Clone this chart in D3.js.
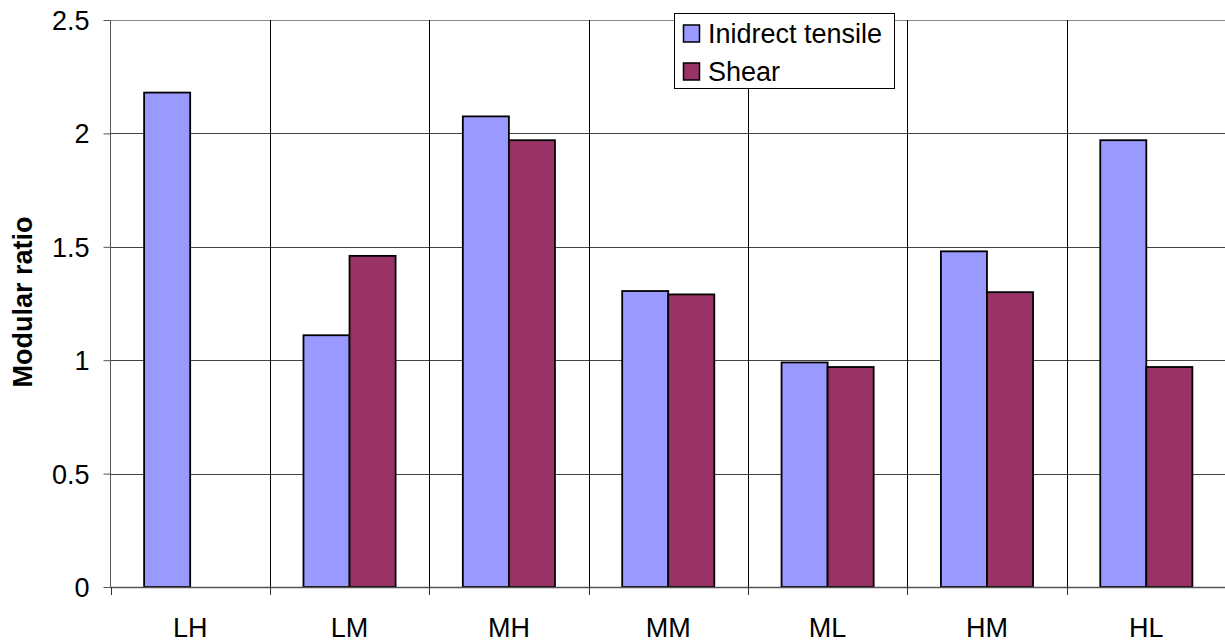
<!DOCTYPE html>
<html><head><meta charset="utf-8">
<script src="https://cdn.jsdelivr.net/npm/d3@7"></script>
<style>body{margin:0;background:#fff}svg{display:block;font-family:"Liberation Sans",Arial,sans-serif}</style>
</head><body><svg id="c" width="1225" height="642"></svg>
<script>
const categories = ["LH","LM","MH","MM","ML","HM","HL"];
const seriesNames = ["Inidrect tensile","Shear"];
const tensile = [2.18,1.11,2.075,1.305,0.99,1.48,1.97];
const shear = [null,1.46,1.97,1.29,0.97,1.30,0.97];
const yTicks = [0,0.5,1,1.5,2,2.5];
const colors = ["#9999FF","#993366"];

const svg = d3.select("#c");
const L = 110.5, R = 1226, T = 20, B = 587;
const FS = 27;
const x = d3.scaleBand().domain(categories).range([L,R]).padding(0);
const y = d3.scaleLinear().domain([0,2.5]).range([B,T]);
const inner = d3.scaleBand().domain([0,1]).range([0,x.bandwidth()]).paddingOuter(0.73).paddingInner(0);

// horizontal gridlines
svg.append("g").selectAll("line").data(yTicks).join("line")
  .attr("x1",L).attr("x2",R).attr("y1",d=>Math.round(y(d))+0.5).attr("y2",d=>Math.round(y(d))+0.5)
  .attr("stroke",d=>d===2.5?"#888":"#444").attr("stroke-width",1);
// vertical gridlines
svg.append("g").selectAll("line").data(categories.slice(1)).join("line")
  .attr("x1",d=>Math.round(x(d))+0.5).attr("x2",d=>Math.round(x(d))+0.5).attr("y1",T).attr("y2",B)
  .attr("stroke","#000").attr("stroke-width",1);

// bars
const data = [];
categories.forEach((c,i)=>{
  [tensile[i],shear[i]].forEach((v,j)=>{ if(v!=null) data.push({c,j,v}); });
});
svg.append("g").selectAll("rect").data(data).join("rect")
  .attr("x",d=>x(d.c)+inner(d.j)).attr("width",inner.bandwidth())
  .attr("y",d=>y(d.v)).attr("height",d=>y(0)-y(d.v))
  .attr("fill",d=>colors[d.j]).attr("stroke","#000").attr("stroke-width",1.8);

// axes
const ya = d3.axisLeft(y).tickValues(yTicks).tickSize(7).tickPadding(14).tickFormat(d=>String(d));
const gy = svg.append("g").attr("transform",`translate(${L},0)`).call(ya);
gy.attr("font-size",null).attr("font-family",null);
gy.select(".domain").attr("stroke","#555").attr("d",`M0,${T}V${B}`);
gy.selectAll(".tick line").attr("stroke","#555");
gy.selectAll("text").style("font-size",FS+"px").attr("fill","#000").attr("dy","0.35em");

// bottom axis line & ticks at boundaries
svg.append("line").attr("x1",L).attr("x2",R).attr("y1",B+0.5).attr("y2",B+0.5).attr("stroke","#555").attr("stroke-width",1.5);
const bounds = categories.map(c=>x(c)).concat([R]);
svg.append("g").selectAll("line").data(bounds).join("line")
  .attr("x1",d=>Math.round(d)+0.5).attr("x2",d=>Math.round(d)+0.5).attr("y1",B).attr("y2",B+8)
  .attr("stroke","#333");
svg.append("g").selectAll("text").data(categories).join("text")
  .attr("x",d=>x(d)+x.bandwidth()/2).attr("y",637).attr("text-anchor","middle")
  .style("font-size",FS+"px").attr("fill","#000").text(d=>d);

// y title
svg.append("text").attr("transform","translate(32,302) rotate(-90)").attr("text-anchor","middle")
  .style("font-size","27px").attr("font-weight","bold").text("Modular ratio");

// legend
const lg = svg.append("g");
lg.append("rect").attr("x",674.5).attr("y",13.5).attr("width",220).attr("height",75)
  .attr("fill","#fff").attr("stroke","#000").attr("stroke-width",1);
seriesNames.forEach((n,i)=>{
  const sy = 25 + i*38;
  lg.append("rect").attr("x",683.5).attr("y",sy).attr("width",16).attr("height",17)
    .attr("fill",colors[i]).attr("stroke","#000").attr("stroke-width",1.5);
  lg.append("text").attr("x",708).attr("y",sy+18).style("font-size",FS+"px").text(n);
});
</script></body></html>
